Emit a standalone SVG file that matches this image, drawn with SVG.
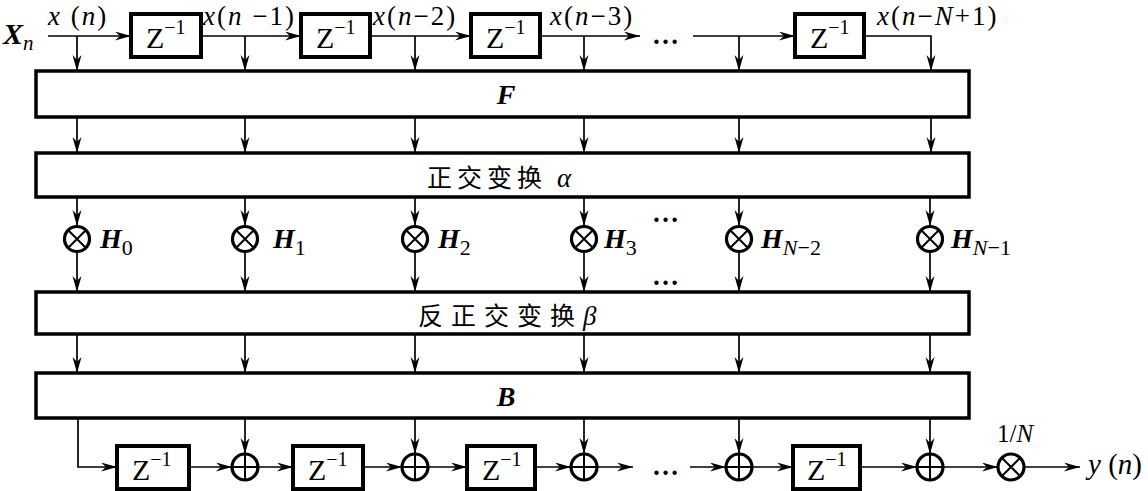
<svg xmlns="http://www.w3.org/2000/svg" width="1148" height="491" viewBox="0 0 1148 491">
<defs>
<style>
text{font-family:'Liberation Serif','DejaVu Serif',serif;fill:#000}
.i{font-style:italic}
.bi{font-style:italic;font-weight:bold}
.lb{font-size:27px;letter-spacing:2px}
.zt{font-size:30px}
.sup{font-size:20px}
.hl{font-size:28px}
.sub{font-size:22px;font-weight:normal}
.big{fill:#fff;stroke:#000;stroke-width:3.5}
.zb{fill:#fff;stroke:#000;stroke-width:4}
.c{fill:#fff;stroke:#000;stroke-width:3.2}
.x{stroke:#000;stroke-width:2;fill:none}
.w{stroke:#000;stroke-width:1.7;fill:none;marker-end:url(#ah)}
.cjk{font-family:'Liberation Serif','Noto Sans CJK SC',serif;font-size:25px}
.dots{font-size:27px;font-weight:bold}
</style>
<marker id="ah" markerWidth="18" markerHeight="10" refX="16" refY="4.5" orient="auto" markerUnits="userSpaceOnUse">
<path d="M0,0 L16,4.5 L0,9 L5,4.5 z" fill="#000"/>
</marker>
</defs>
<rect width="1148" height="491" fill="#fff"/>

<g id="connectors">
<line class="w" x1="48" y1="36" x2="131" y2="36"/>
<line class="w" x1="201" y1="36" x2="301" y2="36"/>
<line class="w" x1="370" y1="36" x2="471" y2="36"/>
<line class="w" x1="540" y1="36" x2="640" y2="36"/>
<line class="w" x1="693" y1="36" x2="795" y2="36"/>
<polyline class="w" points="864,36 931,36 931,71"/>
<line class="w" x1="77" y1="36" x2="77" y2="71"/>
<line class="w" x1="245" y1="36" x2="245" y2="71"/>
<line class="w" x1="415" y1="36" x2="415" y2="71"/>
<line class="w" x1="584" y1="36" x2="584" y2="71"/>
<line class="w" x1="739" y1="36" x2="739" y2="71"/>
<line class="w" x1="77" y1="117" x2="77" y2="153"/>
<line class="w" x1="245" y1="117" x2="245" y2="153"/>
<line class="w" x1="415" y1="117" x2="415" y2="153"/>
<line class="w" x1="584" y1="117" x2="584" y2="153"/>
<line class="w" x1="739" y1="117" x2="739" y2="153"/>
<line class="w" x1="931" y1="117" x2="931" y2="153"/>
<line class="w" x1="77" y1="197" x2="77" y2="226"/>
<line class="w" x1="245" y1="197" x2="245" y2="226"/>
<line class="w" x1="415" y1="197" x2="415" y2="226"/>
<line class="w" x1="584" y1="197" x2="584" y2="226"/>
<line class="w" x1="739" y1="197" x2="739" y2="226"/>
<line class="w" x1="930" y1="197" x2="930" y2="226"/>
<line class="w" x1="77" y1="252" x2="77" y2="292"/>
<line class="w" x1="245" y1="252" x2="245" y2="292"/>
<line class="w" x1="415" y1="252" x2="415" y2="292"/>
<line class="w" x1="584" y1="252" x2="584" y2="292"/>
<line class="w" x1="739" y1="252" x2="739" y2="292"/>
<line class="w" x1="930" y1="252" x2="930" y2="292"/>
<line class="w" x1="77" y1="334" x2="77" y2="373"/>
<line class="w" x1="245" y1="334" x2="245" y2="373"/>
<line class="w" x1="415" y1="334" x2="415" y2="373"/>
<line class="w" x1="584" y1="334" x2="584" y2="373"/>
<line class="w" x1="739" y1="334" x2="739" y2="373"/>
<line class="w" x1="930" y1="334" x2="930" y2="373"/>
<line class="w" x1="245" y1="418" x2="245" y2="454"/>
<line class="w" x1="415" y1="418" x2="415" y2="454"/>
<line class="w" x1="584" y1="418" x2="584" y2="454"/>
<line class="w" x1="739" y1="418" x2="739" y2="454"/>
<line class="w" x1="930" y1="418" x2="930" y2="454"/>
<polyline class="w" points="78,418 78,467 117,467"/>
<line class="w" x1="189" y1="467" x2="232" y2="467"/>
<line class="w" x1="258" y1="467" x2="293" y2="467"/>
<line class="w" x1="363" y1="467" x2="402" y2="467"/>
<line class="w" x1="428" y1="467" x2="467" y2="467"/>
<line class="w" x1="535" y1="467" x2="571" y2="467"/>
<line class="w" x1="597" y1="467" x2="633" y2="467"/>
<line class="w" x1="690" y1="467" x2="726" y2="467"/>
<line class="w" x1="752" y1="467" x2="793" y2="467"/>
<line class="w" x1="860" y1="467" x2="917" y2="467"/>
<line class="w" x1="943" y1="467" x2="998" y2="467"/>
<line class="w" x1="1024" y1="467" x2="1080" y2="467"/>
</g>

<g id="zt1"><rect class="zb" x="131" y="14" width="70" height="43"/><text class="zt" x="146" y="48">Z<tspan class="sup" dy="-14">−1</tspan></text></g>
<g id="zt2"><rect class="zb" x="301" y="14" width="69" height="43"/><text class="zt" x="316" y="48">Z<tspan class="sup" dy="-14">−1</tspan></text></g>
<g id="zt3"><rect class="zb" x="471" y="14" width="69" height="43"/><text class="zt" x="486" y="48">Z<tspan class="sup" dy="-14">−1</tspan></text></g>
<g id="zt4"><rect class="zb" x="795" y="14" width="69" height="43"/><text class="zt" x="810" y="48">Z<tspan class="sup" dy="-14">−1</tspan></text></g>

<g id="labels-top">
<text class="bi" x="3" y="44" font-size="30">X<tspan class="i" font-weight="normal" font-size="21" dy="6">n</tspan></text>
<text class="lb" x="48" y="25"><tspan class="i">x</tspan> (<tspan class="i">n</tspan>)</text>
<text class="lb" x="203" y="25"><tspan class="i">x</tspan>(<tspan class="i">n</tspan> −1)</text>
<text class="lb" x="373" y="25"><tspan class="i">x</tspan>(<tspan class="i">n</tspan>−2)</text>
<text class="lb" x="550" y="25"><tspan class="i">x</tspan>(<tspan class="i">n</tspan>−3)</text>
<text class="lb" x="877" y="25" letter-spacing="4"><tspan class="i">x</tspan>(<tspan class="i">n</tspan>−<tspan class="i">N</tspan>+1)</text>
<text class="dots" x="652" y="44">…</text>
</g>

<g id="F"><rect class="big" x="36" y="71" width="933" height="46"/><text class="bi" x="506" y="104" font-size="28" text-anchor="middle">F</text></g>
<g id="alpha"><rect class="big" x="36" y="153" width="933" height="44"/><text class="cjk" x="427" y="187" letter-spacing="5">正交变换</text><text class="i" x="557" y="187" font-size="27">α</text></g>

<g id="m0"><circle class="c" cx="77" cy="239" r="12.5"/><path class="x" d="M68,230 L86,248 M86,230 L68,248"/><text class="bi hl" x="100" y="248">H<tspan class="sub" font-style="normal" dy="7">0</tspan></text></g>
<g id="m1"><circle class="c" cx="245" cy="239" r="12.5"/><path class="x" d="M236,230 L254,248 M254,230 L236,248"/><text class="bi hl" x="273" y="248">H<tspan class="sub" font-style="normal" dy="7">1</tspan></text></g>
<g id="m2"><circle class="c" cx="415" cy="239" r="12.5"/><path class="x" d="M406,230 L424,248 M424,230 L406,248"/><text class="bi hl" x="438" y="248">H<tspan class="sub" font-style="normal" dy="7">2</tspan></text></g>
<g id="m3"><circle class="c" cx="584" cy="239" r="12.5"/><path class="x" d="M575,230 L593,248 M593,230 L575,248"/><text class="bi hl" x="604" y="248">H<tspan class="sub" font-style="normal" dy="7">3</tspan></text></g>
<g id="m4"><circle class="c" cx="739" cy="239" r="12.5"/><path class="x" d="M730,230 L748,248 M748,230 L730,248"/><text class="bi hl" x="761" y="248">H<tspan class="sub" dy="7">N</tspan><tspan class="sub" font-style="normal">−2</tspan></text></g>
<g id="m5"><circle class="c" cx="930" cy="239" r="12.5"/><path class="x" d="M921,230 L939,248 M939,230 L921,248"/><text class="bi hl" x="951" y="248">H<tspan class="sub" dy="7">N</tspan><tspan class="sub" font-style="normal">−1</tspan></text></g>
<g id="dots-mid">
<text class="dots" x="652" y="222">…</text>
<text class="dots" x="652" y="285">…</text>
</g>

<g id="beta"><rect class="big" x="36" y="292" width="933" height="42"/><text class="cjk" x="418" y="325" letter-spacing="8">反正交变换<tspan class="i" font-family="'Liberation Serif',serif" font-size="27" letter-spacing="0">β</tspan></text></g>
<g id="B"><rect class="big" x="36" y="373" width="933" height="45"/><text class="bi" x="506" y="406" font-size="28" text-anchor="middle">B</text></g>

<g id="zb1"><rect class="zb" x="117" y="446" width="72" height="43"/><text class="zt" x="132" y="480">Z<tspan class="sup" dy="-14">−1</tspan></text></g>
<g id="zb2"><rect class="zb" x="293" y="446" width="70" height="43"/><text class="zt" x="308" y="480">Z<tspan class="sup" dy="-14">−1</tspan></text></g>
<g id="zb3"><rect class="zb" x="467" y="446" width="68" height="43"/><text class="zt" x="482" y="480">Z<tspan class="sup" dy="-14">−1</tspan></text></g>
<g id="zb4"><rect class="zb" x="793" y="446" width="67" height="43"/><text class="zt" x="807" y="480">Z<tspan class="sup" dy="-14">−1</tspan></text></g>

<g id="a1"><circle class="c" cx="245" cy="467" r="13"/><path class="x" d="M245,454 V480 M232,467 H258" stroke-width="1.6"/></g>
<g id="a2"><circle class="c" cx="415" cy="467" r="13"/><path class="x" d="M415,454 V480 M402,467 H428" stroke-width="1.6"/></g>
<g id="a3"><circle class="c" cx="584" cy="467" r="13"/><path class="x" d="M584,454 V480 M571,467 H597" stroke-width="1.6"/></g>
<g id="a4"><circle class="c" cx="739" cy="467" r="13"/><path class="x" d="M739,454 V480 M726,467 H752" stroke-width="1.6"/></g>
<g id="a5"><circle class="c" cx="930" cy="467" r="13"/><path class="x" d="M930,454 V480 M917,467 H943" stroke-width="1.6"/></g>
<text class="dots" x="652" y="475">…</text>

<g id="scale"><circle class="c" cx="1011" cy="467" r="13"/><path class="x" d="M1002,458 L1020,476 M1020,458 L1002,476"/><text x="997" y="442" font-size="25">1/<tspan class="i">N</tspan></text></g>
<g id="out"><text x="1088" y="474" font-size="29"><tspan class="i">y</tspan> (<tspan class="i">n</tspan>)</text></g>
</svg>
